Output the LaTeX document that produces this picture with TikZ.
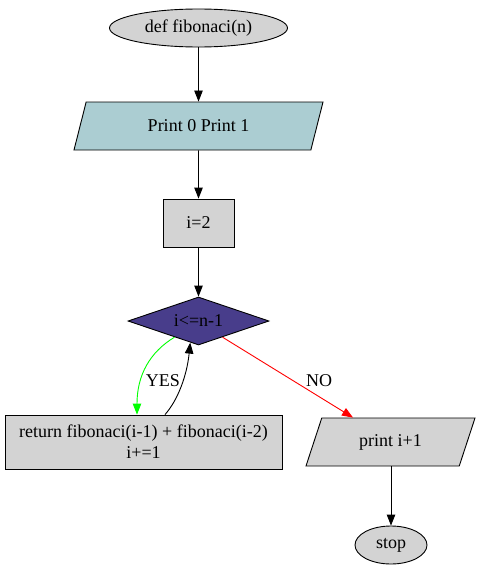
\documentclass[tikz,border=0pt]{standalone}
\usepackage{fontspec}
\setmainfont{Liberation Serif}
\usetikzlibrary{shapes.geometric,arrows.meta}
\begin{document}
\begin{tikzpicture}[x=1pt,y=1pt,line width=0.9pt,
  font=\fontsize{18}{21}\selectfont,
  base/.style={draw=black,inner sep=0pt,text=black},
  oval/.style={base,ellipse,fill=lightgray},
  io/.style={base,trapezium,trapezium left angle=45,trapezium right angle=135,trapezium stretches body,minimum height=48},
  boxnode/.style={base,rectangle,fill=lightgray},
  decide/.style={base,diamond,aspect=2.94,fill=dsb,minimum width=141,minimum height=48},
  arr/.style={-{Triangle[length=11pt,width=8.5pt]}},
  lbl/.style={inner sep=0pt}]
\definecolor{lightgray}{RGB}{211,211,211}
\definecolor{lb}{RGB}{171,205,210}
\definecolor{dsb}{RGB}{72,61,139}
\useasboundingbox (0,0) rectangle (483,-573);
\node[oval,minimum width=178,minimum height=38] (start) at (198.5,-28) {def fibonaci(n)};
\node[io,fill=lb,minimum width=249] (p1) at (198.5,-126) {Print 0 Print 1};
\node[boxnode,minimum width=71,minimum height=48] (i2) at (198.5,-223) {i=2};
\node[decide] (d) at (198.5,-321) {i<=n-1};
\node[boxnode,minimum width=277,minimum height=54,align=center] (r) at (143.5,-442) {return fibonaci(i-1) + fibonaci(i-2)\\i+=1};
\node[io,fill=lightgray,minimum width=169] (p2) at (390.5,-442) {print i+1};
\node[oval,minimum width=72,minimum height=38] (stop) at (391,-545) {stop};
\draw[arr] (start) -- (p1);
\draw[arr] (p1) -- (i2);
\draw[arr] (i2) -- (d);
\draw[arr,green] (d.214) .. controls (150,-352) and (137,-375) .. ([xshift=-6.5pt]r.north);
\node[lbl] (yes) at (163,-381) {YES};
\draw[arr] ([xshift=21.5pt]r.north) .. controls (178,-400) and (187,-375) .. (d.249);
\draw[arr,red] (d.326) -- ([xshift=-37.5pt]p2.north);
\node[lbl] (no) at (319,-381) {NO};
\draw[arr] (p2.south -| stop.north) -- (stop);
\end{tikzpicture}
\end{document}
